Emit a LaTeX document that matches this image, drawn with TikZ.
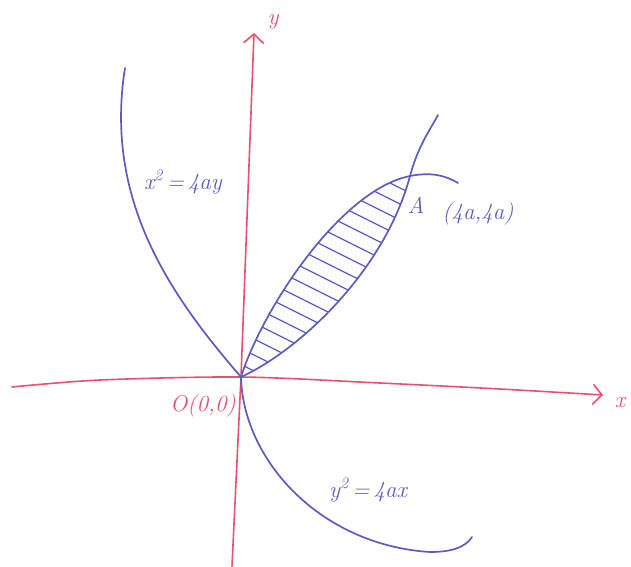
\documentclass[tikz,border=0pt]{standalone}
\usetikzlibrary{arrows.meta}
\definecolor{axisred}{RGB}{232,80,112}
\definecolor{penblue}{RGB}{92,92,192}
\begin{document}
\begin{tikzpicture}[x=1pt,y=-1pt,
  axis/.style={draw=axisred, line width=1.6pt, line cap=round},
  curve/.style={draw=penblue, line width=1.7pt, line cap=round},
  hatchline/.style={draw=penblue, line width=1.3pt},
  lbl/.style={font=\fontsize{23}{26}\selectfont\itshape, inner sep=0pt}]
\useasboundingbox (0,0) rectangle (631,566);
\coordinate (O) at (241,377);
\coordinate (A) at (410,176);
% hatching of the region between the curves
\begin{scope}
\clip (O) .. controls (262,310) and (340,190) .. (A)
      .. controls (385,270) and (300,350) .. (O) -- cycle;
\foreach \c in {-28,-12,...,250}
  \draw[hatchline] (200,{100+\c}) -- (470,{235+\c});
\end{scope}
% axes
\draw[axis, -{Straight Barb[length=9pt,width=20pt,line width=1.6pt]}]
  plot[smooth] coordinates {(12,387) (100,380) (241,377) (380,383) (500,389) (603,395)};
\draw[axis, -{Straight Barb[length=9pt,width=20pt,line width=1.6pt]}]
  (232,566) -- (O) -- (254,33);
% x^2 = 4ay
\draw[curve] (125,68) .. controls (104,200) and (170,295) .. (O);
\draw[curve] (O) .. controls (300,350) and (385,270) .. (A)
             .. controls (418,146) and (430,130) .. (438,115);
% y^2 = 4ax
\draw[curve] (O) .. controls (262,310) and (340,190) .. (A)
             .. controls (430,172) and (445,175) .. (458,183);
\draw[curve] (O) .. controls (243,460) and (320,545) .. (430,552)
             .. controls (450,552) and (465,548) .. (472,537);
% labels
\node[lbl, text=penblue] (lx2) at (183,182) {x\textsuperscript{2}\,=\,4ay};
\node[lbl, text=penblue] (lA) at (416,205) {A};
\node[lbl, text=penblue] (lAc) at (478,214) {(4a,4a)};
\node[lbl, text=axisred] (lO) at (203,406) {O(0,0)};
\node[lbl, text=penblue] (ly2) at (368,490) {y\textsuperscript{2}\,=\,4ax};
\node[lbl, text=axisred] (ly) at (273,22) {y};
\node[lbl, text=axisred] (lxx) at (620,403) {x};
\end{tikzpicture}
\end{document}
